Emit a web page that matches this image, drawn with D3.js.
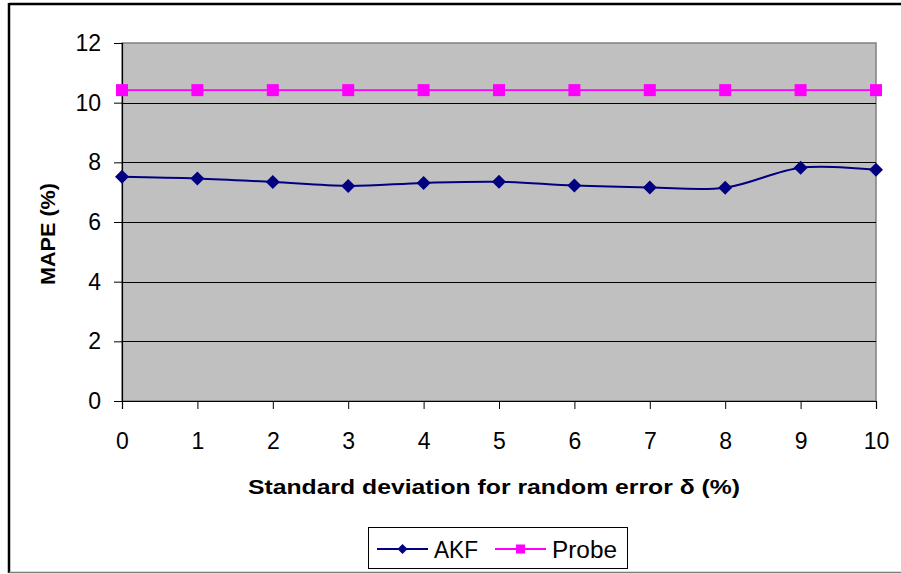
<!DOCTYPE html>
<html>
<head>
<meta charset="utf-8">
<script src="https://cdn.jsdelivr.net/npm/d3@7"></script>
<style>
  html, body { margin: 0; padding: 0; background: #fff; }
  svg { display: block; font-family: "Liberation Sans", Arial, sans-serif; }
</style>
</head>
<body>
<svg id="chart" width="901" height="574"></svg>
<script>
// Standard deviation of random error (%)
const deltas = [0, 1, 2, 3, 4, 5, 6, 7, 8, 9, 10];
// MAPE (%) per method
const akf   = [7.52, 7.46, 7.34, 7.21, 7.31, 7.35, 7.22, 7.16, 7.15, 7.82, 7.75];
const probe = [10.42, 10.42, 10.42, 10.42, 10.42, 10.42, 10.42, 10.42, 10.42, 10.42, 10.42];
const yTicks = [0, 2, 4, 6, 8, 10, 12];
const seriesNames = ["AKF", "Probe"];

const svg = d3.select("#chart");
const plot = { left: 122, top: 43, right: 876, bottom: 401 };

const x = d3.scaleLinear().domain([0, 10]).range([plot.left, plot.right]);
const y = d3.scaleLinear().domain([0, 12]).range([plot.bottom, plot.top]);

// Outer chart frame
svg.append("line").attr("x1", 9).attr("x2", 901).attr("y1", 4).attr("y2", 4)
  .attr("stroke", "#000").attr("stroke-width", 2.5);
svg.append("line").attr("x1", 9).attr("x2", 9).attr("y1", 3).attr("y2", 573)
  .attr("stroke", "#000").attr("stroke-width", 2.5);
svg.append("line").attr("x1", 9).attr("x2", 901).attr("y1", 572.5).attr("y2", 572.5)
  .attr("stroke", "#7a7a7a").attr("stroke-width", 1.5);

// Plot area background with grey frame
svg.append("rect")
  .attr("x", plot.left).attr("y", plot.top)
  .attr("width", plot.right - plot.left).attr("height", plot.bottom - plot.top)
  .attr("fill", "#c0c0c0").attr("stroke", "#808080").attr("stroke-width", 1.5);

// Horizontal gridlines
svg.append("g").selectAll("line")
  .data(yTicks.filter(d => d > 0 && d < 12))
  .join("line")
  .attr("x1", plot.left).attr("x2", plot.right)
  .attr("y1", d => Math.round(y(d)) + 0.5).attr("y2", d => Math.round(y(d)) + 0.5)
  .attr("stroke", "#000").attr("stroke-width", 1);

// Y axis
const yAxis = svg.append("g")
  .attr("transform", `translate(${plot.left},0)`)
  .call(d3.axisLeft(y).tickValues(yTicks).tickSize(8).tickPadding(13).tickFormat(d3.format("d")));
yAxis.select(".domain").attr("stroke", "#000").attr("stroke-width", 1.2);
yAxis.selectAll(".tick line").attr("stroke", "#000");
yAxis.selectAll(".tick text").attr("font-size", 23).attr("fill", "#000")
  .attr("font-family", "'Liberation Sans', Arial, sans-serif");

// X axis
const xAxis = svg.append("g")
  .attr("transform", `translate(0,${plot.bottom})`)
  .call(d3.axisBottom(x).tickValues(deltas).tickSize(8).tickPadding(24).tickFormat(d3.format("d")));
xAxis.select(".domain").attr("stroke", "#000").attr("stroke-width", 1.2);
xAxis.selectAll(".tick line").attr("stroke", "#000");
xAxis.selectAll(".tick text").attr("font-size", 23).attr("fill", "#000")
  .attr("font-family", "'Liberation Sans', Arial, sans-serif");

// Axis titles
svg.append("text")
  .attr("x", 248).attr("y", 494)
  .attr("font-size", 21).attr("font-weight", "bold")
  .attr("textLength", 492).attr("lengthAdjust", "spacingAndGlyphs")
  .text("Standard deviation for random error δ (%)");

svg.append("text")
  .attr("transform", "translate(55,285) rotate(-90)")
  .attr("font-size", 21).attr("font-weight", "bold")
  .attr("textLength", 102).attr("lengthAdjust", "spacingAndGlyphs")
  .text("MAPE (%)");

// Series lines (smoothed)
const line = d3.line()
  .x((d, i) => x(deltas[i]))
  .y(d => y(d))
  .curve(d3.curveCatmullRom.alpha(0));

svg.append("path").datum(akf)
  .attr("d", line).attr("fill", "none")
  .attr("stroke", "#000080").attr("stroke-width", 2);

svg.append("path").datum(probe)
  .attr("d", line).attr("fill", "none")
  .attr("stroke", "#ff00ff").attr("stroke-width", 1.8);

// Markers
const diamond = s => `M0,${-s}L${s},0L0,${s}L${-s},0Z`;

svg.append("g").selectAll("path")
  .data(akf)
  .join("path")
  .attr("transform", (d, i) => `translate(${x(deltas[i])},${y(d)})`)
  .attr("d", diamond(7))
  .attr("fill", "#000080");

svg.append("g").selectAll("rect")
  .data(probe)
  .join("rect")
  .attr("x", (d, i) => x(deltas[i]) - 6)
  .attr("y", d => y(d) - 6)
  .attr("width", 12).attr("height", 12)
  .attr("fill", "#ff00ff");

// Legend
const legend = svg.append("g");
legend.append("rect")
  .attr("x", 368.5).attr("y", 527.5).attr("width", 259).attr("height", 41)
  .attr("fill", "#fff").attr("stroke", "#000").attr("stroke-width", 1);

const legendItems = [
  { name: seriesNames[0], color: "#000080", x0: 377, shape: "diamond", w: 44 },
  { name: seriesNames[1], color: "#ff00ff", x0: 495, shape: "square", w: 65 }
];
const ly = 549;
legendItems.forEach(it => {
  legend.append("line")
    .attr("x1", it.x0).attr("x2", it.x0 + 51)
    .attr("y1", ly).attr("y2", ly)
    .attr("stroke", it.color).attr("stroke-width", 2);
  const cx = it.x0 + 25.5;
  if (it.shape === "diamond") {
    legend.append("path").attr("transform", `translate(${cx},${ly})`)
      .attr("d", diamond(5)).attr("fill", it.color);
  } else {
    legend.append("rect").attr("x", cx - 4.5).attr("y", ly - 4.5)
      .attr("width", 9).attr("height", 9).attr("fill", it.color);
  }
  legend.append("text")
    .attr("x", it.x0 + 57).attr("y", ly + 8.5)
    .attr("font-size", 23).attr("fill", "#000")
    .attr("textLength", it.w).attr("lengthAdjust", "spacingAndGlyphs")
    .text(it.name);
});
</script>
</body>
</html>
